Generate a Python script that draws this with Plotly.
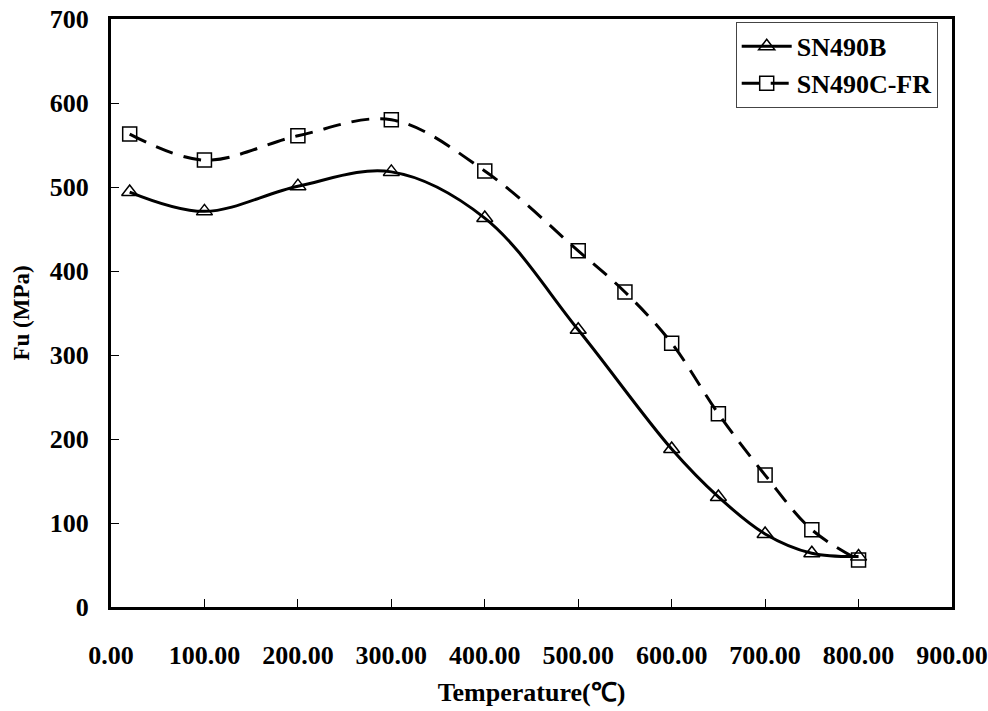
import plotly.graph_objects as go

temp_b = [20, 100, 200, 300, 400, 500, 600, 650, 700, 750, 800]
fu_b = [494, 471, 501, 518, 463, 330, 188, 131, 87, 64, 60]

temp_c = [20, 100, 200, 300, 400, 500, 550, 600, 650, 700, 750, 800]
fu_c = [563, 532, 561, 580, 519, 424, 375, 314, 230, 157, 92, 56]

x_ticks = [0, 100, 200, 300, 400, 500, 600, 700, 800, 900]
y_ticks = [0, 100, 200, 300, 400, 500, 600, 700]

FONT = "Liberation Serif"

fig = go.Figure()
fig.add_trace(go.Scatter(
    x=temp_b, y=fu_b, name="SN490B", mode="lines+markers",
    line=dict(color="black", width=3, shape="spline", smoothing=1.0),
    marker=dict(symbol="triangle-up-open", size=14, color="black", line=dict(width=1.5)),
))
fig.add_trace(go.Scatter(
    x=temp_c, y=fu_c, name="SN490C-FR", mode="lines+markers",
    line=dict(color="black", width=3, dash="18px,11px", shape="spline", smoothing=1.0),
    marker=dict(symbol="square-open", size=14, color="black", line=dict(width=1.5)),
))

fig.update_layout(
    width=988, height=711,
    margin=dict(l=111, r=36, t=19, b=104),
    paper_bgcolor="white", plot_bgcolor="white",
    font=dict(family=FONT, color="black", size=19),
    showlegend=True,
    legend=dict(
        x=0.983, y=0.995, xanchor="right", yanchor="top",
        bordercolor="#444", borderwidth=1, bgcolor="white",
        font=dict(family=FONT, size=26, weight="bold"),
        itemwidth=50,
        tracegroupgap=0,
    ),
    xaxis=dict(
        range=[0, 900], tickvals=x_ticks, tickformat=".2f",
        showline=True, linecolor="black", linewidth=3, mirror=True,
        ticks="inside", ticklen=8, tickcolor="black", tickwidth=1,
        showgrid=False, zeroline=False, automargin=False,
        tickfont=dict(family=FONT, size=26, weight="bold"),
        ticklabelstandoff=23,
        title=dict(text="Temperature(℃)", font=dict(family=FONT, size=26, weight="bold"), standoff=14),
    ),
    yaxis=dict(
        range=[0, 700], tickvals=y_ticks,
        showline=True, linecolor="black", linewidth=3, mirror=True,
        ticks="inside", ticklen=8, tickcolor="black", tickwidth=1,
        showgrid=False, zeroline=False, automargin=False,
        tickfont=dict(family=FONT, size=26, weight="bold"),
        ticklabelstandoff=14,
        title=dict(text="Fu (MPa)", font=dict(family=FONT, size=23, weight="bold"), standoff=14),
    ),
)

fig.write_html("out.html")
